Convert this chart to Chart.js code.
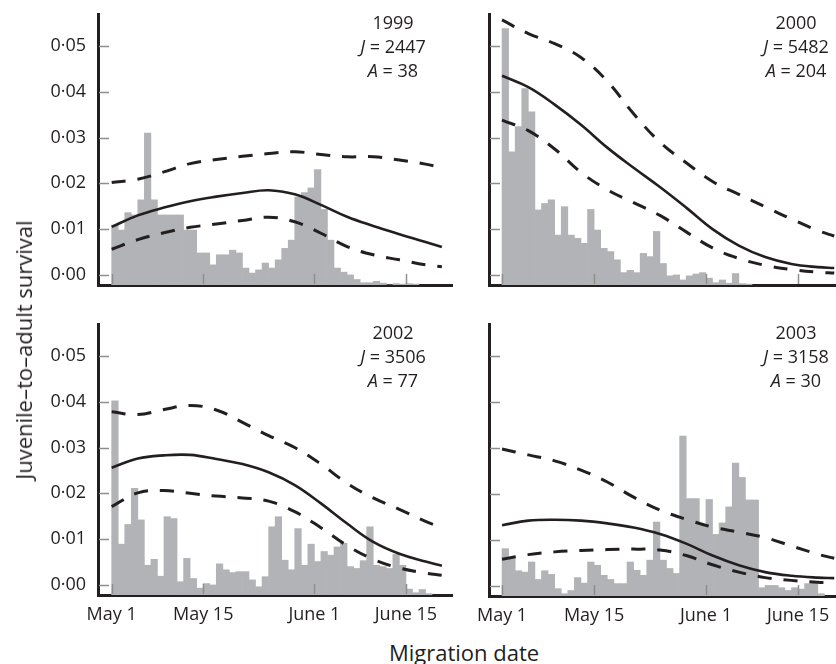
<!DOCTYPE html>
<html>
<head>
<meta charset="utf-8">
<script src="https://cdn.jsdelivr.net/npm/chart.js@4.4.1/dist/chart.umd.min.js"></script>
<style>
  body { margin: 0; background: #fff; }
  #wrap { position: relative; width: 836px; height: 664px; overflow: hidden; font-family: 'Open Sans', sans-serif; color: #231f20; }
  canvas { position: absolute; }
  .note { position: absolute; width: 120px; text-align: center; font-size: 18px; line-height: 24px; }
  .ytitle { position: absolute; left: 23px; top: 350px; transform: translate(-50%, -50%) rotate(-90deg); font-size: 22px; white-space: nowrap; }
  .xtitle { position: absolute; left: 464px; top: 641px; transform: translateX(-50%); font-size: 22px; line-height: 22px; white-space: nowrap; }
</style>
</head>
<body>
<div id="wrap">
  <canvas id="c1999" width="453" height="282" style="left:0;top:13px"></canvas>
  <canvas id="c2000" width="376" height="282" style="left:460px;top:13px"></canvas>
  <canvas id="c2002" width="453" height="312" style="left:0;top:323px"></canvas>
  <canvas id="c2003" width="376" height="313" style="left:460px;top:323px"></canvas>
  <div class="ytitle">Juvenile–to–adult survival</div>
  <div class="xtitle">Migration date</div>
</div>
<script>
// x axis: days after May 1
const xTickDays = [0, 14, 31, 45];
const xTickLabels = ['May 1', 'May 15', 'June 1', 'June 15'];
const yTicks = [0, 0.01, 0.02, 0.03, 0.04, 0.05];

const years = ['1999', '2000', '2002', '2003'];
const juveniles = [2447, 5482, 3506, 3158];
const adults = [38, 204, 77, 30];

// daily migration histograms (bar heights, scaled to the survival axis)
const hist1999 = [0.0131, 0.012, 0.0158, 0.0153, 0.0186, 0.0332, 0.0186, 0.0153, 0.0153, 0.0153, 0.0153, 0.012, 0.012, 0.007, 0.007, 0.0044, 0.0066, 0.0066, 0.0076, 0.007, 0.0037, 0.0026, 0.0033, 0.0048, 0.0037, 0.0055, 0.008, 0.0098, 0.0192, 0.0202, 0.0212, 0.0252, 0.0165, 0.0098, 0.0037, 0.0028, 0.0022, 0.0012, 0.0005, 0.0005, 0.0008, 0.0004, 0, 0.0003, 0.0002, 0.0003, 0.0002];
const hist2000 = [0.056, 0.0291, 0.0346, 0.0429, 0.0378, 0.0164, 0.0178, 0.0186, 0.0109, 0.0171, 0.0109, 0.0102, 0.0091, 0.0165, 0.012, 0.008, 0.0073, 0.0055, 0.0027, 0.0032, 0.0027, 0.0069, 0.0062, 0.0117, 0.0047, 0.002, 0.0022, 0.0011, 0.002, 0.0024, 0.0027, 0.0015, 0.0005, 0.0011, 0.0004, 0.0025, 0.0003, 0.0002];
const hist2002 = [0.0424, 0.0111, 0.0154, 0.0233, 0.0164, 0.0065, 0.0078, 0.0041, 0.0171, 0.0167, 0.0029, 0.008, 0.0036, 0.0015, 0.0025, 0.0022, 0.0068, 0.0055, 0.0049, 0.0051, 0.0051, 0.0033, 0.0018, 0.004, 0.0149, 0.0171, 0.0076, 0.0055, 0.0145, 0.0065, 0.0111, 0.0073, 0.0095, 0.0087, 0.0105, 0.0113, 0.0062, 0.0058, 0.0075, 0.0149, 0.0065, 0.0062, 0.0058, 0.0089, 0.0065, 0.0013, 0.0005, 0.0012, 0.0003];
const hist2003 = [0.0103, 0.0081, 0.0055, 0.0052, 0.0074, 0.0036, 0.0055, 0.0047, 0.0016, 0.0005, 0.0012, 0.004, 0.0028, 0.0074, 0.0067, 0.0045, 0.0036, 0.0027, 0.0027, 0.0074, 0.0056, 0.0045, 0.0078, 0.0161, 0.0078, 0.006, 0.0049, 0.0348, 0.0212, 0.0212, 0.0154, 0.021, 0.0134, 0.0159, 0.0194, 0.0289, 0.0258, 0.0209, 0.0209, 0.0018, 0.0023, 0.0023, 0.0018, 0.0012, 0.0018, 0.0015, 0.0027, 0.003, 0.0005];

// fitted survival curve and its interval, read at these days
const curveDays = [0, 4, 8, 12, 16, 20, 24, 28, 32, 36, 40, 44, 48, 50.5];
const fit1999   = [0.0105, 0.013, 0.0147, 0.0161, 0.0171, 0.0179, 0.0185, 0.0176, 0.0153, 0.0127, 0.0107, 0.0089, 0.0072, 0.0061];
const upper1999 = [0.0202, 0.0209, 0.0225, 0.0243, 0.0252, 0.0259, 0.0265, 0.0269, 0.0263, 0.0258, 0.0258, 0.0251, 0.0242, 0.0234];
const lower1999 = [0.0056, 0.0077, 0.0092, 0.0104, 0.0111, 0.0119, 0.0126, 0.0116, 0.0091, 0.0062, 0.0044, 0.0033, 0.0022, 0.0018];
const fit2000   = [0.0435, 0.041, 0.0372, 0.0328, 0.0278, 0.0234, 0.0192, 0.0147, 0.01, 0.0064, 0.0039, 0.0024, 0.0017, 0.0015];
const upper2000 = [0.0557, 0.0527, 0.0505, 0.0475, 0.0423, 0.0352, 0.029, 0.0245, 0.0204, 0.0176, 0.0149, 0.0122, 0.0097, 0.0085];
const lower2000 = [0.0338, 0.0315, 0.0275, 0.0224, 0.0186, 0.0158, 0.013, 0.0094, 0.0059, 0.0036, 0.0021, 0.0012, 0.0006, 0.0004];
const fit2002   = [0.0256, 0.0276, 0.0283, 0.0284, 0.0275, 0.0264, 0.0246, 0.0218, 0.0178, 0.0134, 0.0094, 0.0068, 0.0051, 0.0042];
const upper2002 = [0.0378, 0.0372, 0.0383, 0.0392, 0.0382, 0.0355, 0.0326, 0.03, 0.0264, 0.0222, 0.019, 0.0165, 0.0139, 0.0125];
const lower2002 = [0.0171, 0.0201, 0.0206, 0.02, 0.0194, 0.019, 0.0183, 0.016, 0.0125, 0.0086, 0.0056, 0.0037, 0.0026, 0.0021];
const fit2003   = [0.0132, 0.0142, 0.0144, 0.0142, 0.0136, 0.0127, 0.0113, 0.0092, 0.0066, 0.0045, 0.003, 0.0022, 0.0018, 0.0017];
const upper2003 = [0.0298, 0.0285, 0.0272, 0.0252, 0.0226, 0.0193, 0.0165, 0.0145, 0.0128, 0.0117, 0.0105, 0.0087, 0.0069, 0.006];
const lower2003 = [0.0058, 0.0068, 0.0074, 0.0077, 0.0079, 0.008, 0.0078, 0.0066, 0.0046, 0.003, 0.0018, 0.0012, 0.0008, 0.0007];

Chart.defaults.font.family = "'Open Sans', sans-serif";
Chart.defaults.font.size = 18;
Chart.defaults.color = '#231f20';

const INK = '#231f20';
const Y_MIN = -0.0022, Y_MAX = 0.0572;

// tick marks point inward from the axes
const innerTicks = {
  id: 'innerTicks',
  afterDatasetsDraw(chart) {
    const { ctx, chartArea, scales } = chart;
    ctx.save();
    ctx.strokeStyle = '#8e8e8e';
    ctx.lineWidth = 1.5;
    ctx.beginPath();
    scales.y.ticks.forEach((t, i) => {
      const py = Math.round(scales.y.getPixelForTick(i)) + 0.5;
      ctx.moveTo(chartArea.left + 1, py);
      ctx.lineTo(chartArea.left + 11, py);
    });
    scales.x.ticks.forEach((t, i) => {
      const px = Math.round(scales.x.getPixelForTick(i)) + 0.5;
      ctx.moveTo(px, chartArea.bottom - 1);
      ctx.lineTo(px, chartArea.bottom - 11);
    });
    ctx.stroke();
    ctx.restore();
  }
};

function toPoints(days, vals) {
  return days.map((d, i) => ({ x: d, y: vals[i] }));
}

function lineSet(vals, dashed) {
  return {
    type: 'line',
    data: toPoints(curveDays, vals),
    borderColor: INK,
    borderWidth: dashed ? 3 : 2.6,
    borderDash: dashed ? [14, 12] : [],
    borderCapStyle: 'butt',
    pointRadius: 0,
    tension: 0.4,
    yAxisID: 'y',
    order: 1
  };
}

// keep the plot area exactly where the canvas puts it
function noPad(s) {
  s.paddingTop = 0; s.paddingBottom = 0; s.paddingLeft = 0; s.paddingRight = 0;
}

function makePanel(id, hist, fit, upper, lower, o) {
  new Chart(document.getElementById(id), {
    type: 'bar',
    data: {
      datasets: [
        {
          data: hist.map((v, i) => ({ x: i + 0.5, y: v })),
          backgroundColor: '#b2b3b7',
          borderWidth: 0,
          barPercentage: 1,
          categoryPercentage: 1,
          grouped: false,
          yAxisID: 'yh',
          order: 2
        },
        lineSet(upper, true),
        lineSet(fit, false),
        lineSet(lower, true)
      ]
    },
    options: {
      responsive: false,
      animation: false,
      devicePixelRatio: 1,
      layout: { padding: 0 },
      plugins: { legend: { display: false }, tooltip: { enabled: false } },
      scales: {
        x: {
          type: 'linear',
          min: o.xMin, max: o.xMax,
          offset: false,
          grid: { display: false, drawTicks: false },
          border: { display: true, color: INK, width: 3 },
          afterBuildTicks: s => { s.ticks = xTickDays.map(v => ({ value: v })); },
          afterFit: s => { s.height = o.xH; noPad(s); },
          ticks: {
            display: o.xLabels,
            padding: 9,
            maxRotation: 0,
            autoSkip: false,
            callback: v => xTickLabels[xTickDays.indexOf(v)]
          }
        },
        y: {
          min: Y_MIN, max: Y_MAX,
          grid: { display: false, drawTicks: false },
          border: { display: true, color: INK, width: 3 },
          afterBuildTicks: s => { s.ticks = yTicks.map(v => ({ value: v })); },
          afterFit: s => { s.width = o.yW; noPad(s); },
          ticks: {
            display: o.yLabels,
            padding: 12,
            callback: v => v.toFixed(2).replace('.', '·')
          }
        },
        yh: { display: false, min: 0, max: Y_MAX - Y_MIN }
      }
    },
    plugins: [innerTicks]
  });
}

const leftX = { xMin: -2.09, xMax: 52.2 };
const rightX = { xMin: -1.98, xMax: 50.77 };

makePanel('c1999', hist1999, fit1999, upper1999, lower1999, { ...leftX, yW: 98, xH: 10, xLabels: false, yLabels: true });
makePanel('c2000', hist2000, fit2000, upper2000, lower2000, { ...rightX, yW: 29, xH: 10, xLabels: false, yLabels: false });
makePanel('c2002', hist2002, fit2002, upper2002, lower2002, { ...leftX, yW: 98, xH: 40, xLabels: true, yLabels: true });
makePanel('c2003', hist2003, fit2003, upper2003, lower2003, { ...rightX, yW: 29, xH: 40, xLabels: true, yLabels: false });

// year labels with sample sizes
const notePos = [[333, 10], [736, 10], [333, 320], [736, 320]];
years.forEach((yr, i) => {
  const d = document.createElement('div');
  d.className = 'note';
  d.style.left = notePos[i][0] + 'px';
  d.style.top = notePos[i][1] + 'px';
  d.innerHTML = yr + '<br><i>J</i> = ' + juveniles[i] + '<br><i>A</i> = ' + adults[i];
  document.getElementById('wrap').appendChild(d);
});
</script>
</body>
</html>
